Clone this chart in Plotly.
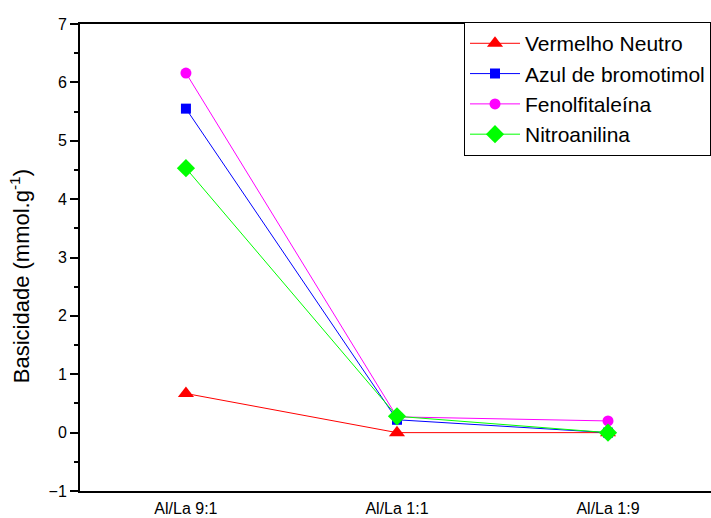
import plotly.graph_objects as go

categories = ["Al/La 9:1", "Al/La 1:1", "Al/La 1:9"]
vermelho = [0.67, 0.0, 0.0]
azul = [5.55, 0.22, 0.0]
fenol = [6.16, 0.27, 0.20]
nitro = [4.53, 0.28, 0.0]

series = [
    ("Vermelho Neutro", vermelho, "#ff0000", "triangle-up", 14),
    ("Azul de bromotimol", azul, "#0000ff", "square", 10),
    ("Fenolfitaleína", fenol, "#ff00ff", "circle", 11),
    ("Nitroanilina", nitro, "#00ff00", "diamond", 14),
]

fig = go.Figure()
for name, vals, col, sym, sz in series:
    fig.add_trace(go.Scatter(
        x=[0, 1, 2], y=vals, name=name, mode="lines+markers",
        line=dict(color=col, width=1),
        marker=dict(color=col, symbol=sym, size=sz, line=dict(width=0)),
    ))

fig.update_layout(
    width=711, height=518,
    margin=dict(l=80, r=0, t=24, b=27, autoexpand=False),
    plot_bgcolor="white", paper_bgcolor="white",
    font=dict(family="Liberation Sans, Arial", color="black", size=16),
    showlegend=True,
    legend=dict(
        x=1, xanchor="right", y=1.004, yanchor="top",
        bordercolor="black", borderwidth=1, bgcolor="white",
        font=dict(size=21, family="Liberation Sans, Arial"),
        tracegroupgap=0, itemwidth=50,
    ),
    annotations=[dict(
        text="Basicidade (mmol.g<sup>-1</sup>)", textangle=-90,
        xref="paper", yref="paper", x=-0.095, y=0.46,
        xanchor="center", yanchor="middle", showarrow=False,
        font=dict(size=22),
    )],
)
fig.update_xaxes(
    range=[-0.502, 2.488], tickmode="array", tickvals=[0, 1, 2], ticktext=categories,
    showline=True, linecolor="black", linewidth=2, mirror=True,
    showgrid=False, zeroline=False, ticks="", tickfont=dict(size=16),
    ticklabelstandoff=2, automargin=False,
)
fig.update_yaxes(
    range=[-1, 7], dtick=1, tick0=0,
    showline=True, linecolor="black", linewidth=2, mirror=False,
    showgrid=False, zeroline=False, ticks="outside", ticklen=8, tickwidth=1.5,
    tickcolor="black", tickfont=dict(size=16), automargin=False,
    minor=dict(ticks="outside", dtick=0.5, ticklen=4, tickwidth=1.5, tickcolor="black"),
)

fig.write_html("out.html")
